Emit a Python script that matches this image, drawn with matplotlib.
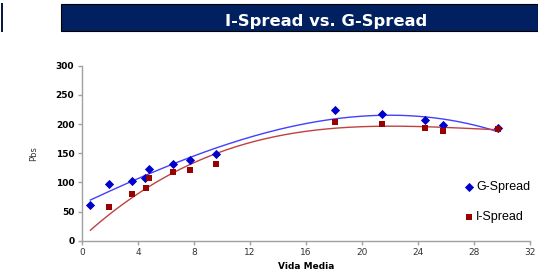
import numpy as np
import matplotlib
matplotlib.use("Agg")
import matplotlib.pyplot as plt
from matplotlib.patches import Rectangle

g_x = [0.6, 1.9, 3.6, 4.5, 4.8, 6.5, 7.7, 9.6, 18.1, 21.4, 24.5, 25.8, 29.7]
g_y = [61, 97, 102, 107, 123, 131, 138, 149, 224, 217, 207, 198, 193]
i_x = [1.9, 3.6, 4.6, 4.8, 6.5, 7.7, 9.6, 18.1, 21.4, 24.5, 25.8, 29.7]
i_y = [58, 80, 91, 108, 117, 122, 131, 203, 200, 194, 188, 192]
# the I-Spread trend line also counts an empty cell (read as 0) at the first maturity
i_trend_x = [0.6] + i_x
i_trend_y = [0] + i_y

title = "I-Spread vs. G-Spread"
xlabel = "Vida Media"
ylabel = "Pbs"
xticks = [0, 4, 8, 12, 16, 20, 24, 28, 32]
yticks = [0, 50, 100, 150, 200, 250, 300]

blue = "#0000CC"
red = "#990000"

fig = plt.figure(figsize=(5.38, 2.76), dpi=100)
ax = fig.add_axes([0.1524, 0.128, 0.8326, 0.634])

# trend lines (polynomial fits)
xs = np.linspace(min(g_x), max(g_x), 200)
pg = np.polyfit(g_x, g_y, 3)
ax.plot(xs, np.polyval(pg, xs), color="#4040FF", lw=1.0, zorder=2)
pi = np.polyfit(i_trend_x, i_trend_y, 3)
ax.plot(xs, np.polyval(pi, xs), color="#C04040", lw=1.0, zorder=2)

ax.scatter(g_x, g_y, marker="D", s=22, color=blue, zorder=3, label="G-Spread", linewidths=0)
ax.scatter(i_x, i_y, marker="s", s=20, color=red, zorder=3, label="I-Spread", linewidths=0)

ax.set_xlim(0, 32)
ax.set_ylim(0, 300)
ax.set_xticks(xticks)
ax.set_yticks(yticks)
for s in ["top", "right"]:
    ax.spines[s].set_visible(False)
for s in ["left", "bottom"]:
    ax.spines[s].set_color("#A0A0A0")
    ax.spines[s].set_linewidth(1.0)
ax.tick_params(axis="both", direction="out", length=3, color="#A0A0A0", width=1.0)
ax.tick_params(axis="y", labelsize=6.5, pad=2.5)
ax.tick_params(axis="x", labelsize=6.5, pad=2)
for lab in ax.get_yticklabels():
    lab.set_fontweight("bold")
for lab in ax.get_xticklabels():
    lab.set_color("#333333")
ax.set_xlabel(xlabel, fontsize=6.5, fontweight="bold", labelpad=4)
ax.set_ylabel(ylabel, fontsize=6, color="#333333", labelpad=13)

leg = ax.legend(loc="center left", bbox_to_anchor=(0.835, 0.22), frameon=False,
                prop={"family": "Liberation Sans", "size": 9}, handletextpad=0.1,
                labelspacing=1.45, handlelength=1.0, borderpad=0)

# title bar
fig.patches.append(Rectangle((61/538, 1-31/276), 1-61/538, 27/276, transform=fig.transFigure,
                             facecolor="#00205F", edgecolor="black", lw=0.8))
fig.patches.append(Rectangle((1/538, 1-32/276), 2/538, 29/276, transform=fig.transFigure,
                             facecolor="#0A1A40", edgecolor="none"))
fig.text(326/538, 1-26/276, title, color="white", fontsize=11.8, fontweight="bold",
         ha="center", va="baseline", family="DejaVu Sans")

fig.savefig("out.png", dpi=100)
